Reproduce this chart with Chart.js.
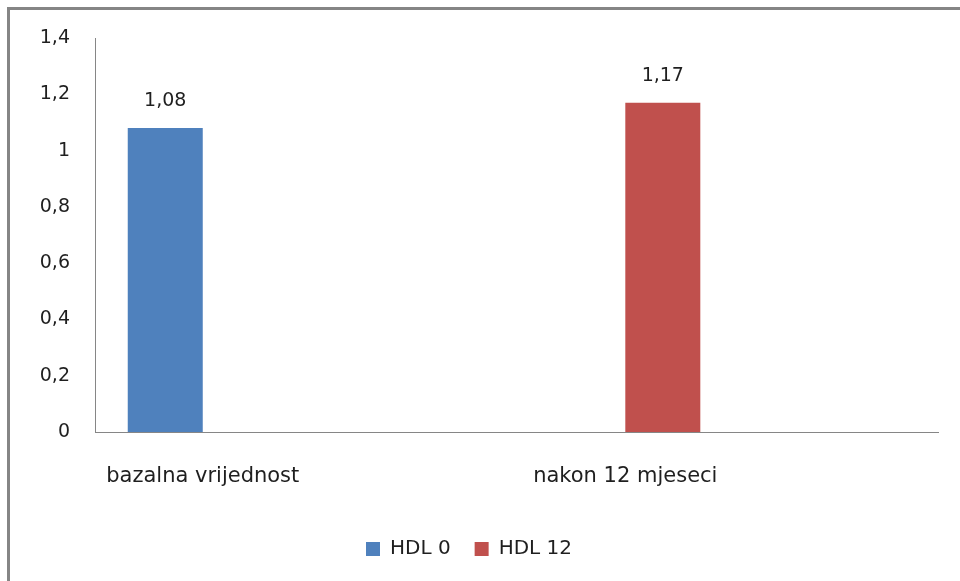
<!DOCTYPE html>
<html>
<head>
<meta charset="utf-8">
<script src="https://cdn.jsdelivr.net/npm/chart.js@4/dist/chart.umd.min.js"></script>
<style>
	html, body { margin: 0; padding: 0; background: #fff; }
	#wrap { width: 960px; height: 581px; position: relative; }
</style>
</head>
<body>
<div id="wrap"><canvas id="hdl"></canvas></div>
<script>
	const categories = ["bazalna vrijednost", "nakon 12 mjeseci"];
	const seriesNames = ["HDL 0", "HDL 12"];
	const hdl0 = [1.08, null];
	const hdl12 = [null, 1.17];
	const yTicks = { min: 0, max: 1.4, step: 0.2 };

	const fmt = (v) => Number(v.toFixed(2)).toString().replace(".", ",");

	// frame (top + left edge) and value labels over the bars
	const frame = {
		id: "frame",
		beforeDraw(chart) {
			const c = chart.ctx;
			c.save();
			c.fillStyle = "#fff";
			c.fillRect(0, 0, chart.width, chart.height);
			c.fillStyle = "#858585";
			c.fillRect(7, 7, chart.width - 7, 3);
			c.fillRect(7, 7, 3, chart.height - 7);
			c.restore();
		},
	};

	const valueLabels = {
		id: "valueLabels",
		afterDatasetsDraw(chart) {
			const c = chart.ctx;
			c.save();
			c.font = "19px 'DejaVu Sans'";
			c.fillStyle = "#1f1f1f";
			c.textAlign = "center";
			c.textBaseline = "middle";
			chart.data.datasets.forEach((ds, i) => {
				chart.getDatasetMeta(i).data.forEach((bar, j) => {
					if (ds.data[j] == null) return;
					c.fillText(fmt(ds.data[j]), bar.x, bar.y - 27);
				});
			});
			c.restore();
		},
	};

	Chart.defaults.color = "#1f1f1f";
	Chart.defaults.font.family = "'DejaVu Sans'";
	Chart.defaults.font.size = 19;

	new Chart(document.getElementById("hdl"), {
		type: "bar",
		data: {
			labels: categories,
			datasets: [{
				label: seriesNames[0],
				data: hdl0,
				backgroundColor: "#4f81bd",
			}, {
				label: seriesNames[1],
				data: hdl12,
				backgroundColor: "#c0504d",
			}],
		},
		plugins: [frame, valueLabels],
		options: {
			responsive: true,
			maintainAspectRatio: false,
			animation: false,
			barPercentage: 1,
			categoryPercentage: 0.355,
			layout: {
				padding: { top: 38, right: 22, bottom: 12, left: 0 },
			},
			plugins: {
				legend: {
					position: "bottom",
					labels: {
						boxWidth: 14,
						boxHeight: 14,
						padding: 24,
						font: { size: 20 },
					},
				},
				tooltip: { enabled: false },
			},
			scales: {
				x: {
					grid: { display: false, drawTicks: false },
					border: { color: "#868686" },
					ticks: { padding: 32, font: { size: 21 } },
					// excel puts the category centres left of where chart.js would
					afterBuildTicks: (s) => {
						s._startValue = -0.255;
						s._valueRange = 1.995;
					},
					afterFit: (s) => { s.height = 83; },
				},
				y: {
					min: yTicks.min,
					max: yTicks.max,
					grid: { display: false, drawTicks: false },
					border: { color: "#868686" },
					ticks: {
						stepSize: yTicks.step,
						padding: 25,
						callback: (v) => fmt(v),
					},
					afterFit: (s) => { s.width = 95; },
				},
			},
		},
	});
</script>
</body>
</html>
